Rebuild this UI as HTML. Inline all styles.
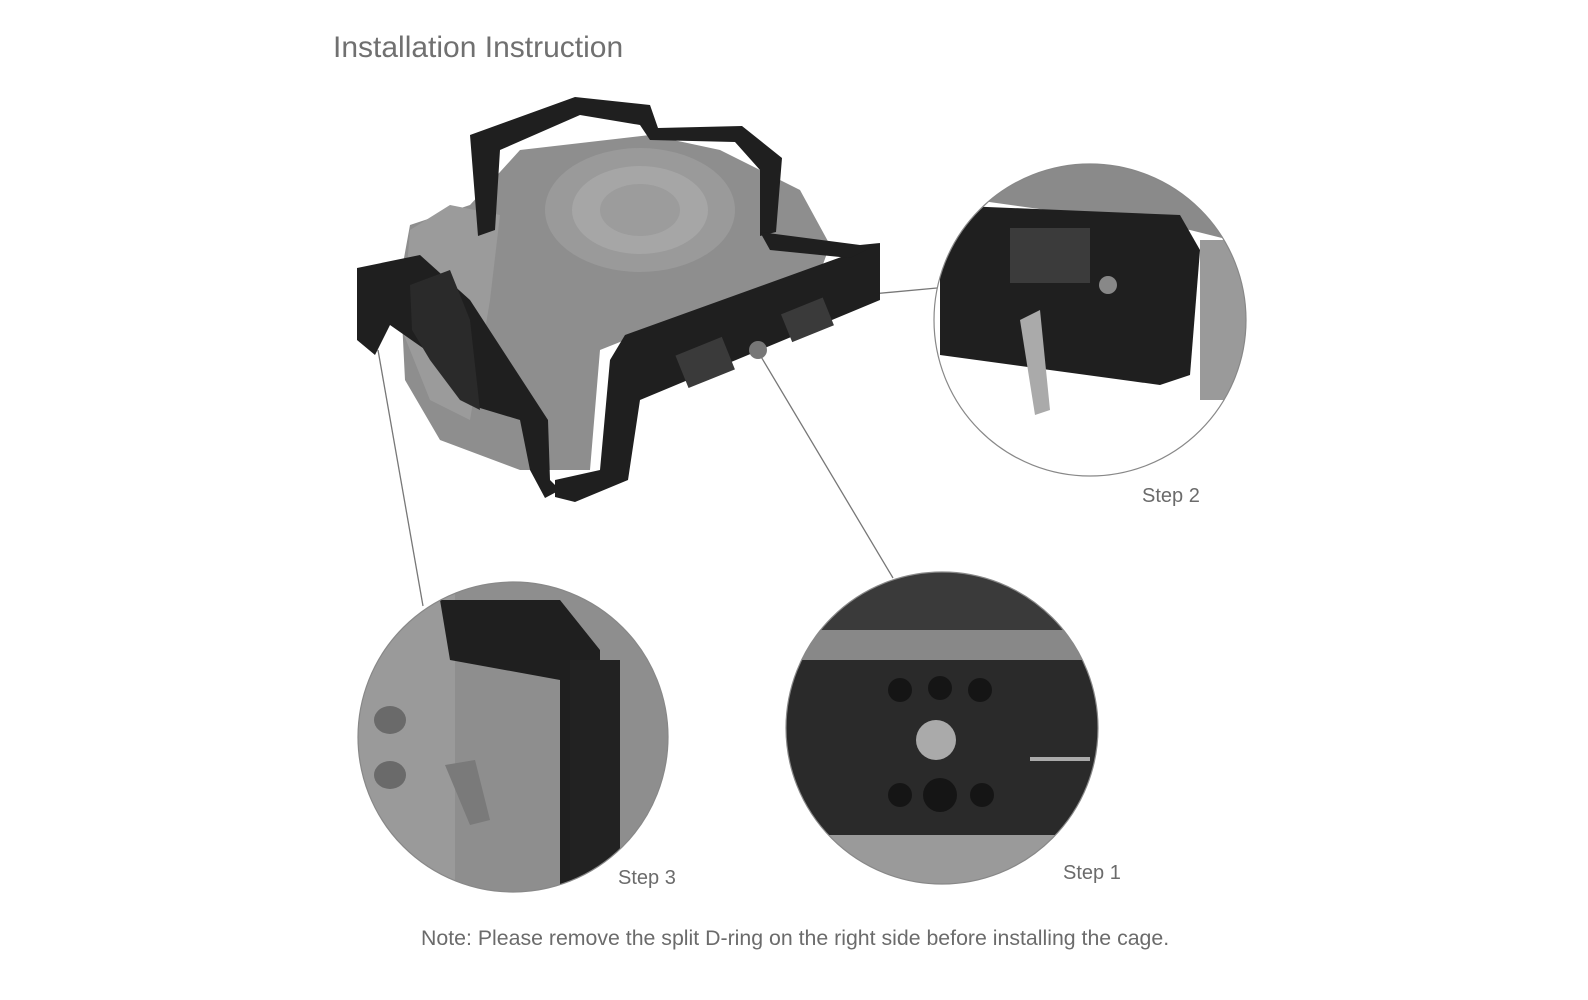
<!DOCTYPE html>
<html><head><meta charset="utf-8"><style>
html,body{margin:0;padding:0;background:#fff;}
body{width:1588px;height:1000px;position:relative;overflow:hidden;font-family:"Liberation Sans",sans-serif;}
.t{position:absolute;color:#6b6b6b;white-space:nowrap;}
</style></head><body>
<svg width="1588" height="1000" style="position:absolute;left:0;top:0">
<defs>
<clipPath id="c2"><circle cx="1090" cy="320" r="156"/></clipPath>
<clipPath id="c3"><circle cx="513" cy="737" r="155"/></clipPath>
<clipPath id="c1"><circle cx="942" cy="728" r="156"/></clipPath>
</defs>
<g stroke="#777" stroke-width="1.3" fill="none">
<line x1="872" y1="294" x2="937" y2="288"/>
<line x1="378" y1="350" x2="423" y2="606"/>
<line x1="760" y1="355" x2="893" y2="578"/>
</g>
<!-- camera body -->
<path d="M410 225 L470 205 L520 150 L650 135 L720 150 L800 190 L830 245 L810 300 L650 330 L600 350 L590 470 L520 470 L440 440 L405 380 L400 280 Z" fill="#8e8e8e"/>
<path d="M410 230 L450 205 L500 215 L490 300 L470 420 L430 400 L402 330 Z" fill="#9b9b9b"/>
<ellipse cx="640" cy="210" rx="95" ry="62" fill="#9a9a9a"/>
<ellipse cx="640" cy="210" rx="68" ry="44" fill="#a6a6a6"/>
<ellipse cx="640" cy="210" rx="40" ry="26" fill="#9c9c9c"/>
<!-- cage frame -->
<g fill="#1f1f1f">
<path d="M470 135 L575 97 L650 105 L658 128 L742 126 L782 158 L776 232 L760 236 L760 170 L735 142 L650 140 L640 125 L580 115 L500 150 L495 230 L478 236 Z"/>
<path d="M625 335 L880 243 L880 300 L640 400 L628 480 L575 502 L555 497 L555 480 L600 470 L610 360 Z"/>
<path d="M760 232 L860 245 L880 243 L850 258 L770 250 Z"/>
<path d="M357 268 L420 255 L470 300 L548 420 L550 480 L560 490 L545 498 L530 470 L520 420 L470 405 L440 360 L390 325 L375 355 L357 340 Z"/>
</g>
<g fill="#3a3a3a">
<rect x="680" y="345" width="50" height="35" transform="rotate(-22 705 362)"/>
<rect x="785" y="305" width="45" height="30" transform="rotate(-22 807 320)"/>
</g>
<circle cx="758" cy="350" r="9" fill="#777"/>
<path d="M410 285 L450 270 L470 320 L480 410 L460 400 L430 360 L412 330 Z" fill="#2a2a2a"/>
<!-- Step 2 -->
<g clip-path="url(#c2)">
<rect x="930" y="160" width="320" height="320" fill="#fff"/>
<path d="M930 160 L1250 160 L1250 245 L1190 230 L975 200 L930 205 Z" fill="#8a8a8a"/>
<path d="M940 205 L1180 215 L1200 250 L1190 375 L1160 385 L940 355 Z" fill="#1f1f1f"/>
<rect x="1010" y="228" width="80" height="55" fill="#3b3b3b"/>
<rect x="1200" y="240" width="60" height="160" fill="#9a9a9a"/>
<path d="M1020 320 L1040 310 L1050 410 L1035 415 Z" fill="#aaa"/>
<circle cx="1108" cy="285" r="9" fill="#888"/>
</g>
<circle cx="1090" cy="320" r="156" fill="none" stroke="#888" stroke-width="1.2"/>
<!-- Step 3 -->
<g clip-path="url(#c3)">
<rect x="355" y="580" width="320" height="320" fill="#8e8e8e"/>
<rect x="355" y="580" width="100" height="320" fill="#9a9a9a"/>
<path d="M440 600 L560 600 L600 650 L600 900 L560 900 L560 680 L450 660 Z" fill="#1f1f1f"/>
<rect x="570" y="660" width="50" height="240" fill="#222"/>
<path d="M445 765 L475 760 L490 820 L470 825 Z" fill="#7a7a7a"/>
<ellipse cx="390" cy="720" rx="16" ry="14" fill="#6a6a6a"/>
<ellipse cx="390" cy="775" rx="16" ry="14" fill="#6a6a6a"/>
</g>
<circle cx="513" cy="737" r="155" fill="none" stroke="#888" stroke-width="1.2"/>
<!-- Step 1 -->
<g clip-path="url(#c1)">
<rect x="780" y="570" width="330" height="320" fill="#fff"/>
<rect x="780" y="570" width="330" height="65" fill="#3a3a3a"/>
<rect x="780" y="630" width="330" height="30" fill="#888"/>
<rect x="780" y="660" width="330" height="175" fill="#2a2a2a"/>
<rect x="780" y="835" width="330" height="60" fill="#9a9a9a"/>
<g fill="#151515">
<circle cx="900" cy="690" r="12"/><circle cx="940" cy="688" r="12"/><circle cx="980" cy="690" r="12"/>
<circle cx="900" cy="795" r="12"/><circle cx="940" cy="795" r="17"/><circle cx="982" cy="795" r="12"/>
</g>
<circle cx="936" cy="740" r="20" fill="#aaa"/>
<rect x="1030" y="757" width="60" height="4" fill="#aaa"/>
</g>
<circle cx="942" cy="728" r="156" fill="none" stroke="#888" stroke-width="1.2"/>
</svg>
<div class="t" style="left:333px;top:31px;font-size:30px;color:#707070">Installation Instruction</div>
<div class="t" style="left:1142px;top:485px;font-size:20px">Step 2</div>
<div class="t" style="left:618px;top:867px;font-size:20px">Step 3</div>
<div class="t" style="left:1063px;top:862px;font-size:20px">Step 1</div>
<div class="t" style="left:421px;top:926px;font-size:21.3px">Note: Please remove the split D-ring on the right side before installing the cage.</div>
</body></html>
